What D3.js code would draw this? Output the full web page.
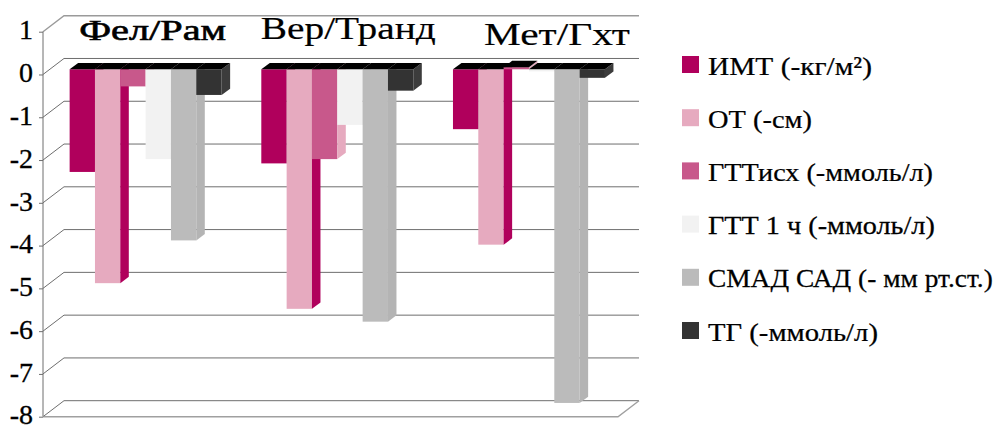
<!DOCTYPE html>
<html>
<head>
<meta charset="utf-8">
<script src="https://cdn.jsdelivr.net/npm/d3@7"></script>
<style>
  html, body { margin: 0; padding: 0; background: #fff; }
  svg { display: block; }
  text { font-family: "Liberation Serif", "Times New Roman", serif; fill: #000; }
</style>
</head>
<body>
<svg id="chart" width="996" height="429"></svg>
<script>
// Study groups and measured parameters
const categories = ["Фел/Рам", "Вер/Транд", "Мет/Гхт"];
const seriesNames = [
  "ИМТ (-кг/м²)",
  "ОТ (-см)",
  "ГТТисх (-ммоль/л)",
  "ГТТ 1 ч (-ммоль/л)",
  "СМАД САД (- мм рт.ст.)",
  "ТГ (-ммоль/л)"
];

// Change of each parameter per group
const imt     = [-2.4, -2.2, -1.4];
const ot      = [-5.0, -5.6, -4.1];
const gttBase = [-0.4, -2.1, 0.05];
const gtt1h   = [-2.1, -1.3, -0.05];
const smadSad = [-4.0, -5.9, -7.8];
const tg      = [-0.6, -0.5, -0.2];

const yTicks = [1, 0, -1, -2, -3, -4, -5, -6, -7, -8];

const seriesValues = [imt, ot, gttBase, gtt1h, smadSad, tg];

// Face colours
const frontColors = ["#b0005c", "#e6aabf", "#c8588b", "#f2f2f2", "#bbbbbb", "#333333"];
const sideColors  = ["#8c004a", "#b0005c", "#e6aabf", "#dedede", "#b4b4b4", "#3c3c3c"];
const topColor = "#000000";

const svg = d3.select("#chart");

// Plot geometry (front plane of the 3D box)
const left = 43, right = 618;
const wall = { dx: 21, dy: -16 };      // depth of the back wall
const barPlane = { dx: 6.8, dy: -5.2 }; // depth of the bars' front faces
const barDepth = { dx: 8.5, dy: -6.3 }; // thickness of each bar

const y = d3.scaleLinear().domain([-8, 1]).range([416.7, 31.7]);

const x0 = d3.scaleBand()
  .domain(categories)
  .range([left + barPlane.dx, right + barPlane.dx])
  .paddingInner(0.207)
  .paddingOuter(0.1035);

const x1 = d3.scaleBand()
  .domain(seriesNames)
  .range([0, x0.bandwidth()]);

// --- walls and gridlines ---
const grid = svg.append("g").attr("fill", "none");
yTicks.forEach(t => {
  const yy = y(t);
  const isEdge = (t === 1);
  grid.append("path")
    .attr("d", `M${left},${yy}L${left + wall.dx},${yy + wall.dy}L${right + wall.dx},${yy + wall.dy}`)
    .attr("stroke", isEdge ? "#9a9a9a" : "#6e6e6e")
    .attr("stroke-width", isEdge ? 1.4 : 1);
});

// floor front and right edges
grid.append("path")
  .attr("d", `M${left},${y(-8)}L${right},${y(-8)}L${right + wall.dx},${y(-8) + wall.dy}`)
  .attr("stroke", "#a0a0a0")
  .attr("stroke-width", 1.4);

// vertical axis line
grid.append("line")
  .attr("x1", left).attr("x2", left)
  .attr("y1", y(1)).attr("y2", y(-8))
  .attr("stroke", "#6e6e6e");

// --- value axis ---
const yAxis = d3.axisLeft(y)
  .tickValues(yTicks)
  .tickSize(4)
  .tickPadding(6)
  .tickFormat(d => String(d));

const axisG = svg.append("g")
  .attr("transform", `translate(${left},0)`)
  .call(yAxis);
axisG.select(".domain").remove();
axisG.selectAll(".tick line").attr("stroke", "#6e6e6e");
axisG.selectAll(".tick text")
  .attr("font-size", 28)
  .attr("font-family", "\"Liberation Serif\", \"Times New Roman\", serif")
  .attr("dy", "0.26em")
  .attr("fill", "#000")
  .attr("stroke", "#000")
  .attr("stroke-width", 0.3);

// --- bars ---
const y0 = y(0) + barPlane.dy;
const bw = x1.bandwidth();
const barsG = svg.append("g");

categories.forEach((cat, i) => {
  const g = barsG.append("g");
  seriesNames.forEach((name, j) => {
    const v = seriesValues[j][i];
    const xl = x0(cat) + x1(name);
    const xr = xl + bw;
    const yv = y(v) + barPlane.dy;
    const yTop = Math.min(yv, y0);
    const yBot = Math.max(yv, y0);

    // front face
    g.append("rect")
      .attr("x", xl).attr("y", yTop)
      .attr("width", bw).attr("height", yBot - yTop)
      .attr("fill", frontColors[j]);

    // side face
    g.append("path")
      .attr("d", `M${xr},${yTop}L${xr},${yBot}L${xr + barDepth.dx},${yBot + barDepth.dy}L${xr + barDepth.dx},${yTop + barDepth.dy}Z`)
      .attr("fill", sideColors[j]);

    // top face
    g.append("path")
      .attr("d", `M${xl},${yTop}L${xr},${yTop}L${xr + barDepth.dx},${yTop + barDepth.dy}L${xl + barDepth.dx},${yTop + barDepth.dy}Z`)
      .attr("fill", topColor);
  });
});

// Helper: place text starting at (x, y) and stretch it to a given width
function fitText(parent, str, x, yBase, size, width, weight) {
  const t = parent.append("text")
    .attr("font-size", size)
    .attr("font-weight", weight || "normal")
    .text(str);
  const w = t.node().getComputedTextLength();
  t.attr("transform", `translate(${x},${yBase}) scale(${width / w},1)`);
  return t;
}

// --- group titles ---
const titleShift = [7, 11, 28];
const titleBase = [40, 38.5, 45];
const titleSize = [29, 32, 31];
const titleWidth = [147, 175, 146];
const titleStroke = [0.6, 0.2, 0.2];
const titlesG = svg.append("g");
categories.forEach((cat, i) => {
  const cx = x0(cat) + x0.bandwidth() / 2 + titleShift[i];
  fitText(titlesG, cat, cx - titleWidth[i] / 2, titleBase[i], titleSize[i], titleWidth[i], "normal")
    .attr("stroke", "#000").attr("stroke-width", titleStroke[i]);
});

// --- legend ---
const legendWidths = [164, 104, 225, 227, 285, 170];
const legend = svg.append("g").attr("transform", "translate(682,56)");
seriesNames.forEach((name, j) => {
  const row = legend.append("g").attr("transform", `translate(0,${j * 53.2})`);
  row.append("rect")
    .attr("width", 17).attr("height", 17)
    .attr("fill", frontColors[j]);
  fitText(row, name, 26, 18.5, 26, legendWidths[j], "normal")
    .attr("stroke", "#000").attr("stroke-width", 0.25);
});
</script>
</body>
</html>
